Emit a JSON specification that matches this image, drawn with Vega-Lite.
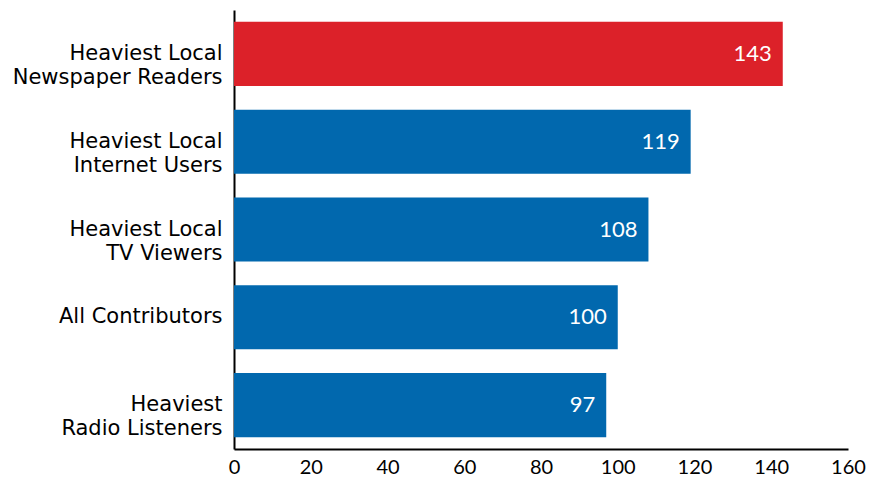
{
  "$schema": "https://vega.github.io/schema/vega-lite/v6.json",
  "width": 614,
  "height": 439,
  "autosize": "none",
  "padding": {"left": 234, "top": 10, "right": 25, "bottom": 33},
  "background": "white",
  "config": {"view": {"stroke": null}, "font": "Lato"},
  "data": {
    "values": [
      {"group": "Heaviest Local\u00a0|Newspaper Readers", "value": 143, "highlight": "yes"},
      {"group": "Heaviest Local\u00a0|Internet Users", "value": 119, "highlight": "no"},
      {"group": "Heaviest Local\u00a0|TV Viewers", "value": 108, "highlight": "no"},
      {"group": "All Contributors", "value": 100, "highlight": "no"},
      {"group": "Heaviest\u00a0|Radio Listeners", "value": 97, "highlight": "no"}
    ]
  },
  "encoding": {
    "y": {
      "field": "group", "type": "nominal", "sort": null,
      "scale": {"paddingInner": 0.27, "paddingOuter": 0.135},
      "axis": {
        "title": null, "ticks": false, "domainColor": "black", "domainWidth": 2,
        "labelFont": "DejaVu Sans", "labelFontSize": 21, "labelColor": "black", "labelPadding": 12, "labelLineHeight": 24,
        "labelExpr": "split(datum.label, '|')", "labelLimit": 300
      }
    },
    "x": {
      "field": "value", "type": "quantitative",
      "scale": {"domain": [0, 160], "nice": false},
      "axis": {
        "title": null, "ticks": false, "grid": false, "domainColor": "black", "domainWidth": 2,
        "values": [0, 20, 40, 60, 80, 100, 120, 140, 160],
        "labelFontSize": 20, "labelColor": "black", "labelPadding": 8, "labelFlush": false
      }
    }
  },
  "layer": [
    {
      "mark": {"type": "bar"},
      "encoding": {
        "color": {
          "field": "highlight", "type": "nominal",
          "scale": {"domain": ["yes", "no"], "range": ["#DC2129", "#0168AE"]},
          "legend": null
        }
      }
    },
    {
      "mark": {"type": "text", "align": "right", "dx": -11, "color": "white", "fontSize": 22, "baseline": "middle"},
      "encoding": {"text": {"field": "value", "type": "quantitative"}}
    }
  ]
}
